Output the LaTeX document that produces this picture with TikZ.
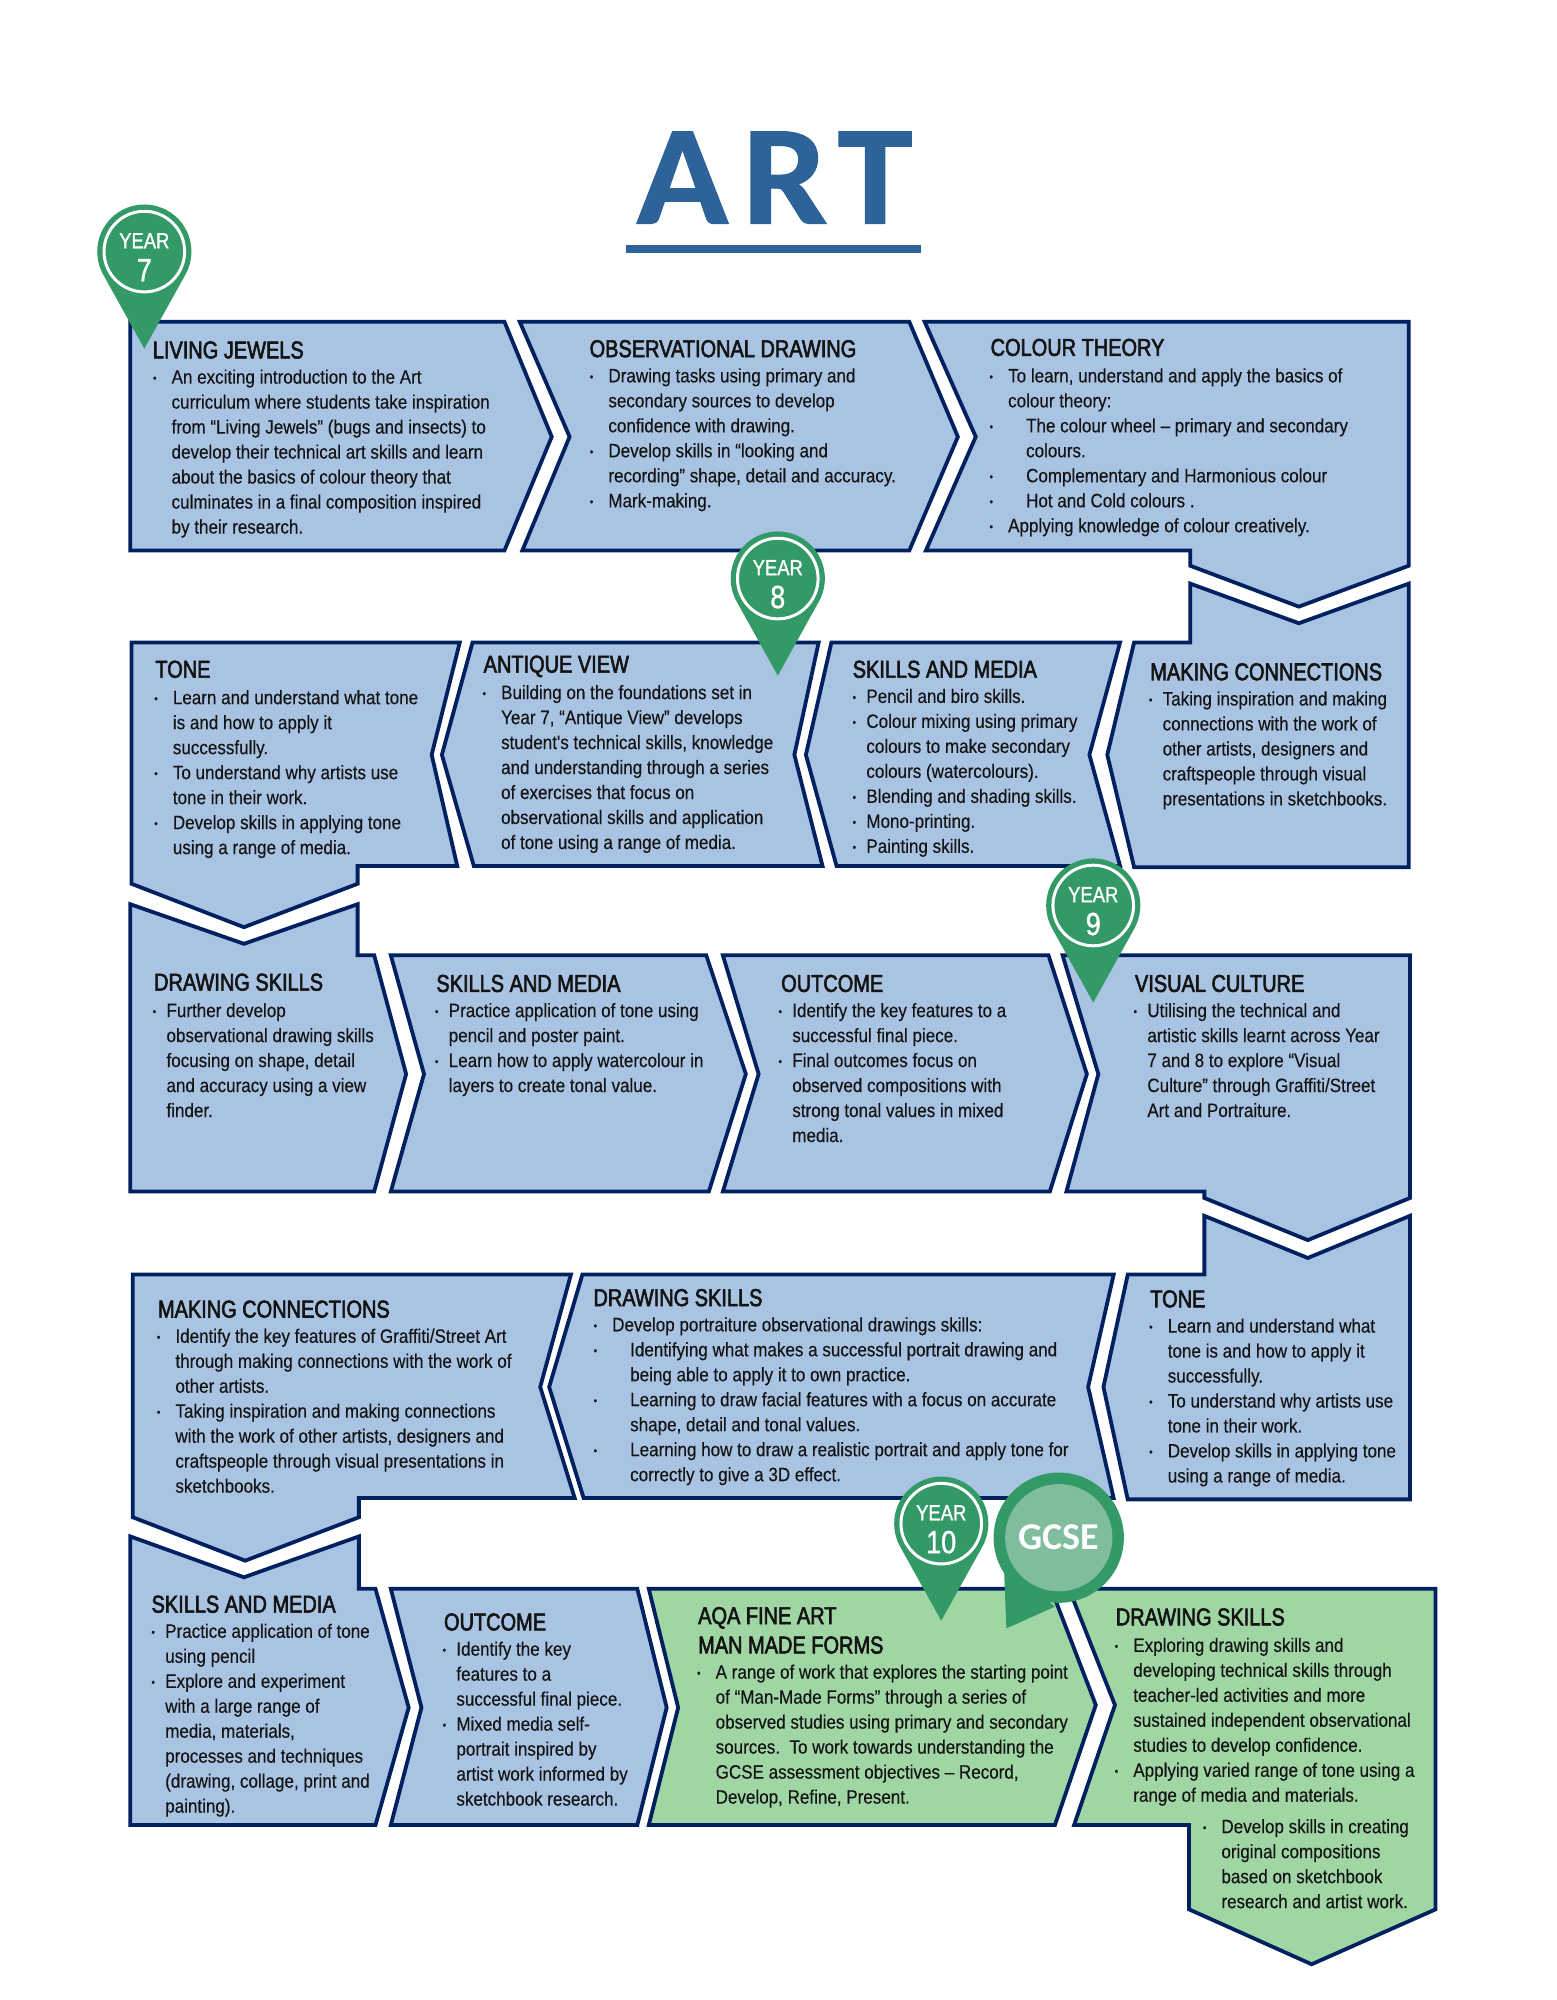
\documentclass[tikz,border=0pt]{standalone}
\usepackage{fontspec}
\setmainfont{Liberation Sans}
\newfontfamily\nar[FakeStretch=0.88,FakeBold=0.25]{Liberation Sans}
\newfontfamily\narh[FakeStretch=0.82,FakeBold=2.4]{Liberation Sans}
\newfontfamily\pinf[FakeStretch=0.84,FakeBold=1.2]{Liberation Sans}
\newfontfamily\carl[FakeStretch=1.07,FakeBold=0.8]{Carlito Bold}
\newfontfamily\carlb{Carlito}
\definecolor{boxblue}{HTML}{A8C4E2}
\definecolor{boxgreen}{HTML}{A0D6A4}
\definecolor{navy}{HTML}{002060}
\definecolor{pingreen}{HTML}{339966}
\definecolor{gcsein}{HTML}{7FBD9C}
\definecolor{titleblue}{HTML}{2E6399}
\definecolor{ink}{HTML}{141414}
\tikzset{
 bluebox/.style={draw=navy,fill=boxblue,line width=1.9pt,miter limit=10},
 greenbox/.style={draw=navy,fill=boxgreen,line width=1.9pt,miter limit=10},
 bodytext/.style={anchor=north west,inner sep=0pt,align=left,text=ink,yshift=6.4pt,xshift=-0.6pt,
   font=\nar\fontsize{9.7}{12.52}\selectfont},
 headtext/.style={anchor=base west,inner sep=0pt,text=ink,yshift=-3.6pt,xshift=-0.4pt,
   font=\narh\fontsize{12.2}{14}\selectfont},
 pinfill/.style={fill=pingreen,draw=none},
 pinyear/.style={inner sep=0pt,text=white,font=\pinf\fontsize{11}{12}\selectfont},
 pinnum/.style={inner sep=0pt,text=white,font=\pinf\fontsize{16}{18}\selectfont},
}
\newcommand\dotb{\raisebox{0.9pt}{\fontsize{5.5}{6}\selectfont •}}
\newcommand\bu{\llap{\dotb\hspace{7.6pt}}}
\newcommand\bv{\llap{\dotb\hspace{5.2pt}}}
\newcommand\sub{\hspace*{9pt}}
\newcommand\tb[4]{\node[bodytext] (#1) at (#2,#3) {\rule{0pt}{9pt}#4};}
\newcommand\hd[4]{\node[headtext] (#1) at (#2,#3) {#4};}
\newcommand\yearpin[4]{%
 \begin{scope}[shift={(#2,#3)},x=0.64pt,y=0.64pt]
  \fill[pinfill] (0,-76) -- (331:23.6pt) arc[start angle=-29,end angle=209,radius=23.6pt] -- cycle;
  \draw[white,line width=1.5pt] (0,0) circle[radius=20.2pt];
  \node[pinyear] (#1a) at (0,8.5) {YEAR};
  \node[pinnum] (#1b) at (0,-14.5) {#4};
 \end{scope}}
\begin{document}
\begin{tikzpicture}[x=0.64pt,y=-0.64pt]
\useasboundingbox (0,0) rectangle (1218.4,1566);
\fill[white] (0,0) rectangle (1218.4,1566);
% title
\node[inner sep=0pt,text=titleblue,font=\carl\fontsize{71}{80}\selectfont] (title) at (606.5,139) {A\hspace{7pt}R\hspace{5pt}T};
\fill[titleblue] (490,192) rectangle (721,198);
% row 1
\draw[bluebox] (102,252)--(395,252)--(432,342)--(395,431)--(102,431)--cycle;
\draw[bluebox] (407,252)--(712,252)--(750,342)--(712,431)--(409,431)--(446,342)--cycle;
\draw[bluebox] (724,252)--(1103,252)--(1103,443)--(1017,475)--(932,443)--(932,431)--(725,431)--(764,342)--cycle;
% row 2
\draw[bluebox] (932,457)--(1017,488)--(1103,457)--(1103,679)--(888,679)--(867,591)--(888,503)--(932,503)--cycle;
\draw[bluebox] (651,503)--(877,503)--(853,591)--(877,678)--(655,678)--(631,591)--cycle;
\draw[bluebox] (370,503)--(641,503)--(622,591)--(644,678)--(371,678)--(346,591)--cycle;
\draw[bluebox] (103,503)--(360,503)--(338,591)--(358,678)--(280,678)--(280,692)--(191,726)--(103,692)--cycle;
% row 3
\draw[bluebox] (102,708)--(191,739)--(280,708)--(280,748)--(293,748)--(318,841)--(293,933)--(102,933)--cycle;
\draw[bluebox] (306,748)--(553,748)--(584,841)--(555,933)--(306,933)--(332,841)--cycle;
\draw[bluebox] (566,748)--(821,748)--(851,841)--(822,933)--(566,933)--(594,841)--cycle;
\draw[bluebox] (832,748)--(1104,748)--(1104,938)--(1024,971)--(943,938)--(943,933)--(835,933)--(860,841)--cycle;
% row 4
\draw[bluebox] (104,998)--(447,998)--(423,1086)--(450,1173)--(281,1173)--(281,1188)--(192,1222)--(104,1188)--cycle;
\draw[bluebox] (456,998)--(872,998)--(852,1086)--(872,1173)--(457,1173)--(430,1086)--cycle;
\draw[bluebox] (943,952)--(1024,985)--(1104,952)--(1104,1174)--(883,1174)--(864,1086)--(883,998)--(943,998)--cycle;
% row 5
\draw[bluebox] (102,1203)--(191,1235)--(281,1203)--(281,1244)--(294,1244)--(320,1337)--(294,1429)--(102,1429)--cycle;
\draw[bluebox] (306,1244)--(499,1244)--(522,1337)--(499,1429)--(306,1429)--(330,1337)--cycle;
\draw[greenbox] (508,1244)--(823,1244)--(858,1335)--(826,1429)--(508,1429)--(531,1337)--cycle;
\draw[greenbox] (837,1244)--(1124,1244)--(1124,1495)--(1027,1538)--(931,1495)--(931,1429)--(841,1429)--(873,1335)--cycle;
% texts
\hd{h1}{120}{275}{LIVING JEWELS}
\tb{t1}{135}{296}{\bu An exciting introduction to the Art\\curriculum where students take inspiration\\from “Living Jewels” (bugs and insects) to\\develop their technical art skills and learn\\about the basics of colour theory that\\culminates in a final composition inspired\\by their research.}
\hd{h2}{462}{274}{OBSERVATIONAL DRAWING}
\tb{t2}{477}{295}{\bu Drawing tasks using primary and\\secondary sources to develop\\confidence with drawing.\\\bu Develop skills in “looking and\\recording” shape, detail and accuracy.\\\bu Mark-making.}
\hd{h3}{776}{273}{COLOUR THEORY}
\tb{t3}{790}{295}{\bu To learn, understand and apply the basics of\\colour theory:\\\bu\sub The colour wheel – primary and secondary\\\sub colours.\\\bu\sub Complementary and Harmonious colour\\\bu\sub Hot and Cold colours .\\\bu Applying knowledge of colour creatively.}
\hd{h4}{122}{525}{TONE}
\tb{t4}{136}{547}{\bu Learn and understand what tone\\is and how to apply it\\successfully.\\\bu To understand why artists use\\tone in their work.\\\bu Develop skills in applying tone\\using a range of media.}
\hd{h5}{379}{521}{ANTIQUE VIEW}
\tb{t5}{393}{543}{\bu Building on the foundations set in\\Year 7, “Antique View” develops\\student's technical skills, knowledge\\and understanding through a series\\of exercises that focus on\\observational skills and application\\of tone using a range of media.}
\hd{h6}{668}{525}{SKILLS AND MEDIA}
\tb{t6}{679}{546}{\bv Pencil and biro skills.\\\bv Colour mixing using primary\\colours to make secondary\\colours (watercolours).\\\bv Blending and shading skills.\\\bv Mono-printing.\\\bv Painting skills.}
\hd{h7}{901}{527}{MAKING CONNECTIONS}
\tb{t7}{911}{548}{\bv Taking inspiration and making\\connections with the work of\\other artists, designers and\\craftspeople through visual\\presentations in sketchbooks.}
\hd{h8}{121}{770}{DRAWING SKILLS}
\tb{t8}{131}{792}{\bv Further develop\\observational drawing skills\\focusing on shape, detail\\and accuracy using a view\\finder.}
\hd{h9}{342}{771}{SKILLS AND MEDIA}
\tb{t9}{352}{792}{\bv Practice application of tone using\\pencil and poster paint.\\\bv Learn how to apply watercolour in\\layers to create tonal value.}
\hd{h10}{612}{771}{OUTCOME}
\tb{t10}{621}{792}{\bv Identify the key features to a\\successful final piece.\\\bv Final outcomes focus on\\observed compositions with\\strong tonal values in mixed\\media.}
\hd{h11}{889}{771}{VISUAL CULTURE}
\tb{t11}{899}{792}{\bv Utilising the technical and\\artistic skills learnt across Year\\7 and 8 to explore “Visual\\Culture” through Graffiti/Street\\Art and Portraiture.}
\hd{h12}{124}{1026}{MAKING CONNECTIONS}
\tb{t12}{138}{1047}{\bu Identify the key features of Graffiti/Street Art\\through making connections with the work of\\other artists.\\\bu Taking inspiration and making connections\\with the work of other artists, designers and\\craftspeople through visual presentations in\\sketchbooks.}
\hd{h13}{465}{1017}{DRAWING SKILLS}
\tb{t13}{480}{1038}{\bu Develop portraiture observational drawings skills:\\\bu\sub Identifying what makes a successful portrait drawing and\\\sub being able to apply it to own practice.\\\bu\sub Learning to draw facial features with a focus on accurate\\\sub shape, detail and tonal values.\\\bu\sub Learning how to draw a realistic portrait and apply tone for\\\sub correctly to give a 3D effect.}
\hd{h14}{901}{1018}{TONE}
\tb{t14}{915}{1039}{\bu Learn and understand what\\tone is and how to apply it\\successfully.\\\bu To understand why artists use\\tone in their work.\\\bu Develop skills in applying tone\\using a range of media.}
\hd{h15}{119}{1257}{SKILLS AND MEDIA}
\tb{t15}{130}{1278}{\bv Practice application of tone\\using pencil\\\bv Explore and experiment\\with a large range of\\media, materials,\\processes and techniques\\(drawing, collage, print and\\painting).}
\hd{h16}{348}{1271}{OUTCOME}
\tb{t16}{358}{1292}{\bv Identify the key\\features to a\\successful final piece.\\\bv Mixed media self-\\portrait inspired by\\artist work informed by\\sketchbook research.}
\hd{h17}{547}{1266}{AQA FINE ART}
\hd{h18}{547}{1289}{MAN MADE FORMS}
\tb{t18}{561}{1310}{\bu A range of work that explores the starting point\\of “Man-Made Forms” through a series of\\observed studies using primary and secondary\\sources.\ \ To work towards understanding the\\GCSE assessment objectives – Record,\\Develop, Refine, Present.}
\hd{h19}{874}{1267}{DRAWING SKILLS}
\tb{t19}{888}{1289}{\bu Exploring drawing skills and\\developing technical skills through\\teacher-led activities and more\\sustained independent observational\\studies to develop confidence.\\\bu Applying varied range of tone using a\\range of media and materials.}
\tb{t20}{957}{1431}{\bu Develop skills in creating\\original compositions\\based on sketchbook\\research and artist work.}
% pins
\yearpin{py7}{113}{197}{7}
\yearpin{py8}{609}{453}{8}
\yearpin{py9}{856}{709}{9}
\yearpin{py10}{737}{1193}{10}
% GCSE pin
\fill[pingreen] (788,1275)--(786,1225)--(826,1258)--cycle;
\fill[pingreen] (829,1204) circle[radius=51];
\fill[gcsein] (829,1204) circle[radius=42];
\node[inner sep=0pt,text=white,font=\carlb\bfseries\fontsize{19}{21}\selectfont] (gcse) at (829,1204) {GCSE};
\end{tikzpicture}
\end{document}
